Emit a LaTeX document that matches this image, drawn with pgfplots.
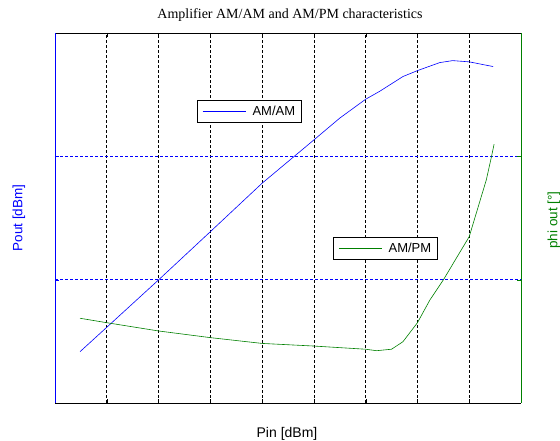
\documentclass[border=0pt]{standalone}
\usepackage{pgfplots}
\pgfplotsset{compat=1.18}
\usepackage{fontspec}
\setmainfont{Liberation Serif}
\setsansfont{Liberation Sans}
\definecolor{mblue}{RGB}{0,0,255}
\definecolor{mgreen}{RGB}{0,128,0}
\begin{document}
\begin{tikzpicture}
\path[use as bounding box] (-55pt,-38pt) rectangle (505pt,403pt);
\begin{axis}[
  scale only axis, width=466pt, height=370pt,
  xmin=0, xmax=9, ymin=0, ymax=3,
  xtick={1,2,3,4,5,6,7,8}, ytick={1,2},
  xticklabels={}, yticklabels={},
  tick align=inside, major tick length=4pt,
  axis y line*=left,
  y axis line style={mblue, line width=0.8pt},
  y tick style={mblue},
  x tick style={black},
  grid=major,
  x grid style={black, line width=0.6pt, dash pattern=on 2.5pt off 2.5pt},
  y grid style={mblue, line width=0.6pt, dash pattern=on 3pt off 2pt},
  legend style={at={(0.305,0.819)}, anchor=north west, draw=black, line width=0.6pt,
    font=\sffamily\fontsize{13}{15}\selectfont, inner xsep=5pt, inner ysep=3.5pt,
    nodes={inner xsep=1.5pt}},
  legend image code/.code={\draw[#1] (3pt,0pt) -- (46pt,0pt); \path (51pt,0pt);},
  legend cell align=left,
]
\addplot[mblue, line width=0.6pt] coordinates {
(0.483,0.416) (1,0.614) (2,0.998) (3,1.389) (4,1.782) (5,2.133)
(5.5,2.31) (6,2.463) (6.27,2.527) (6.72,2.647) (7,2.695)
(7.43,2.760) (7.68,2.776) (8,2.766) (8.46,2.728)
};
\addlegendentry{AM/AM}
\end{axis}
\begin{axis}[
  scale only axis, width=466pt, height=370pt,
  xmin=0, xmax=9, ymin=0, ymax=3,
  hide x axis,
  axis y line*=right,
  ytick={1,2}, yticklabels={},
  tick align=inside, major tick length=4pt,
  y axis line style={mgreen, line width=0.8pt},
  y tick style={mgreen},
  legend style={at={(0.597,0.449)}, anchor=north west, draw=black, line width=0.6pt,
    font=\sffamily\fontsize{13}{15}\selectfont, inner xsep=5pt, inner ysep=3.5pt,
    nodes={inner xsep=1.5pt}},
  legend image code/.code={\draw[#1] (3pt,0pt) -- (46pt,0pt); \path (51pt,0pt);},
  legend cell align=left,
]
\addplot[mgreen, line width=0.6pt] coordinates {
(0.483,0.687) (1,0.651) (2,0.584) (3,0.530) (4,0.483) (4.99,0.462)
(6,0.436) (6.21,0.424) (6.50,0.436) (6.72,0.497) (7,0.651) (7.24,0.835)
(7.50,0.998) (8,1.349) (8.33,1.809) (8.43,1.998) (8.48,2.098)
};
\addlegendentry{AM/PM}
\end{axis}
\node[font=\fontsize{14}{16}\selectfont] at (235pt,388pt) {Amplifier AM/AM and AM/PM characteristics};
\node[font=\sffamily\fontsize{14}{16}\selectfont] at (232pt,-31pt) {Pin [dBm]};
\node[font=\sffamily\fontsize{13.5}{16}\selectfont, text=mblue, rotate=90] at (-36pt,185pt) {Pout [dBm]};
\node[font=\sffamily\fontsize{13.5}{16}\selectfont, text=mgreen, rotate=90] at (499pt,183pt) {phi out [°]};
\end{tikzpicture}
\end{document}
